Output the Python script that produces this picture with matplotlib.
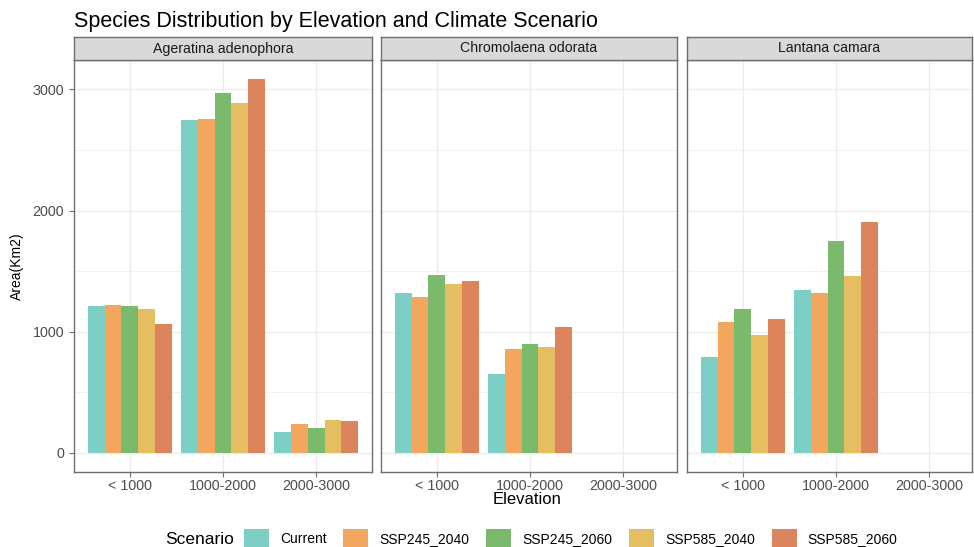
import matplotlib.pyplot as plt
import numpy as np
from matplotlib.patches import Patch

plt.rcParams['font.family'] = ['Liberation Sans', 'DejaVu Sans']

species = ["Ageratina adenophora", "Chromolaena odorata", "Lantana camara"]
elevations = ["< 1000", "1000-2000", "2000-3000"]
scenarios = ["Current", "SSP245_2040", "SSP245_2060", "SSP585_2040", "SSP585_2060"]
colors = ["#7DCFC6", "#F2A65E", "#7BBA6C", "#E6BE62", "#DC845C"]

# area (km2) per elevation band, one list per scenario
ageratina = {
    "Current":     [1210, 2745, 173],
    "SSP245_2040": [1220, 2755, 236],
    "SSP245_2060": [1215, 2970, 206],
    "SSP585_2040": [1192, 2890, 272],
    "SSP585_2060": [1067, 3088, 266],
}
chromolaena = {
    "Current":     [1316, 654, np.nan],
    "SSP245_2040": [1283, 854, np.nan],
    "SSP245_2060": [1470, 898, np.nan],
    "SSP585_2040": [1398, 876, np.nan],
    "SSP585_2060": [1418, 1036, np.nan],
}
lantana = {
    "Current":     [796, 1344, np.nan],
    "SSP245_2040": [1082, 1324, np.nan],
    "SSP245_2060": [1187, 1750, np.nan],
    "SSP585_2040": [975, 1459, np.nan],
    "SSP585_2060": [1107, 1909, np.nan],
}
data = [ageratina, chromolaena, lantana]

W, H = 974, 547
fig = plt.figure(figsize=(W / 100, H / 100), dpi=100)

# panel extents in pixels (left, right)
panels = [(74, 372), (381, 677), (687, 972)]
top_px, bot_px = 60, 471.7
strip_top = 37
unit = (372 - 74) / 3.2
border = "#6E6E6E"
grid = "#EBEBEB"
tickc = "#6E6E6E"

for p, (l, r) in enumerate(panels):
    ax = fig.add_axes([l / W, 1 - bot_px / H, (r - l) / W, (bot_px - top_px) / H])
    x = np.arange(1, len(elevations) + 1)
    for j, sc in enumerate(scenarios):
        vals = np.array(data[p][sc], dtype=float)
        ax.bar(x + (j - 2) * 0.18, vals, width=0.18, color=colors[j], zorder=3)
    ax.set_xlim(0.4, 0.4 + (r - l) / unit)
    ax.set_ylim(-154.4, 3242.4)
    ax.set_xticks(x)
    ax.set_xticklabels(elevations, fontsize=10.3, color="#4D4D4D")
    ax.set_yticks([0, 1000, 2000, 3000])
    ax.set_yticks([500, 1500, 2500], minor=True)
    ax.set_xticks([], minor=True)
    ax.grid(True, which="major", color=grid, lw=0.9, zorder=0)
    ax.grid(True, which="minor", axis="y", color=grid, lw=0.5, zorder=0)
    ax.tick_params(axis="both", which="major", length=3.5, color=tickc, width=0.8)
    ax.tick_params(axis="y", which="minor", length=0)
    ax.tick_params(axis="x", pad=2)
    if p == 0:
        ax.set_yticklabels(["0", "1000", "2000", "3000"], fontsize=10.3, color="#4D4D4D")
        ax.set_ylabel("Area(Km2)", fontsize=10, labelpad=6)
    else:
        ax.tick_params(axis="y", which="major", length=0, labelleft=False)
    for s in ax.spines.values():
        s.set_color(border)
        s.set_linewidth(1.0)

    sax = fig.add_axes([l / W, 1 - top_px / H, (r - l) / W, (top_px - strip_top) / H])
    sax.set_facecolor("#D9D9D9")
    sax.set_xticks([])
    sax.set_yticks([])
    for s in sax.spines.values():
        s.set_color(border)
        s.set_linewidth(1.0)
    sax.text(0.5, 0.5, species[p], ha="center", va="center", fontsize=10.2,
             color="#1A1A1A", transform=sax.transAxes)

fig.text(74 / W, 1 - 21 / H, "Species Distribution by Elevation and Climate Scenario",
         fontsize=15.5, ha="left", va="center")
fig.text(527 / W, 1 - 499 / H, "Elevation", fontsize=12, ha="center", va="center")

handles = [Patch(facecolor=c, edgecolor="none") for c in colors]
fig.text(165 / W, 1 - 539 / H, "Scenario", fontsize=12.5, ha="left", va="center")
fig.legend(handles, scenarios, ncol=5, loc="center left",
           bbox_to_anchor=(244 / W, 1 - 538 / H), frameon=False, fontsize=10,
           handlelength=1.8, handleheight=1.6, handletextpad=0.8, columnspacing=1.2,
           borderaxespad=0, borderpad=0)

fig.savefig("out.png", dpi=100)
